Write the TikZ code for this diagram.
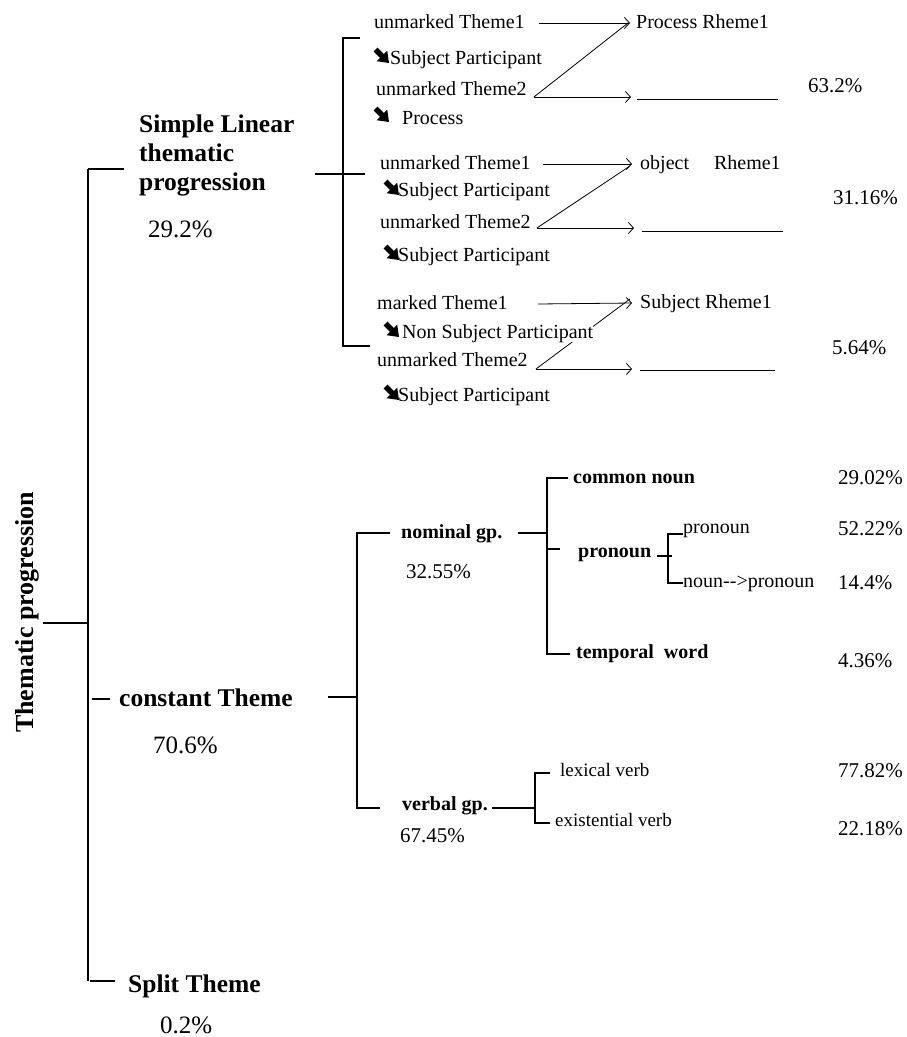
\documentclass[tikz,border=0pt]{standalone}
\usepackage{fontspec}
\setmainfont{Liberation Serif}
\usetikzlibrary{arrows.meta,calc}

\begin{document}
\begin{tikzpicture}[x=1pt,y=-1pt,
  lbl/.style={inner sep=0pt, anchor=base west, font=\fontsize{20}{22}\selectfont,
              text height=14pt, text depth=4pt},
  lblsm/.style={lbl, font=\fontsize{19}{21}\selectfont},
  hd/.style={inner sep=0pt, anchor=base west, font=\bfseries\fontsize{25.5}{29}\selectfont},
  sub/.style={lbl, font=\bfseries\fontsize{20}{22}\selectfont},
  pc/.style={lbl, font=\fontsize{21}{23}\selectfont},
  bigpc/.style={lbl, font=\fontsize{25}{27}\selectfont},
  tree/.style={line width=1.1pt},
  link/.style={line width=0.8pt},
  arr/.style={line width=0.8pt, -{Straight Barb[length=5pt,width=11pt,line width=0.8pt]}},
  blank/.style={line width=1pt},
  % heavy south-east arrow set before the participant labels (origin on the baseline)
  sea/.pic={\fill (5.55,-15.41) -- (11.9,-9.05) -- (15.2,-12.4) -- (17,0)
                 -- (4.6,-1.8) -- (7.95,-5.09) -- (1.59,-11.45) -- cycle;}
]
\useasboundingbox (0,0) rectangle (907,1037);

% ---------- root and trunk ----------
\node[hd, rotate=90, font=\bfseries\fontsize{26}{28}\selectfont] (tp) at (33,733) {Thematic progression};
\coordinate (root) at (43,623);
\coordinate (tRoot) at (88,623);
\coordinate (tSL) at (88,169);
\coordinate (tCT) at (88,699);
\coordinate (tST) at (88,981);
\draw[tree] (root) -- (tRoot);
\draw[tree] (tSL) -- (tST);

% ---------- simple linear thematic progression ----------
\node[hd, align=left] (sl) at (139,190) {Simple Linear\\thematic\\progression};
\node[bigpc] (sl-p) at (148,237) {29.2\%};
\draw[tree] (tSL) -- ++(36,0);

\coordinate (sTop) at (343,38);
\coordinate (sMid) at (343,174);
\coordinate (sBot) at (343,346);
\draw[tree] (360,38) -- (sTop) -- (sBot) -- (370,346);
\draw[tree] (315,174) -- (365,174);

% pattern 1
\node[lbl] (a1) at (374,28) {unmarked Theme1};
\node[lbl] (a1r) at (636,28) {Process Rheme1};
\pic (a1g) at (372,63) {sea};
\node[lbl] (a1s) at (390,64) {Subject Participant};
\node[lbl] (a2) at (376,95) {unmarked Theme2};
\pic (a2g) at (372,122) {sea};
\node[lbl] (a2s) at (402,124) {Process};
\coordinate (a2o) at ($(a2.base east)+(7,2)$);
\coordinate (a2b) at (637,99);
\coordinate (a2e) at (778,99);
\draw[arr] ($(a1.east)+(14,0)$) -- ($(a1r.west)+(-6,0)$);
\draw[link] (a2o) -- ($(a1r.west)+(-8,0)$);
\draw[arr] (a2o) -- ($(a2o -| a2b)+(-6,0)$);
\draw[blank] (a2b) -- (a2e);
\node[pc] (p1) at (808,92) {63.2\%};

% pattern 2
\node[lbl] (b1) at (380,169) {unmarked Theme1};
\node[lbl] (b1r) at (640,169) {object\quad\ Rheme1};
\pic (b1g) at (382,195) {sea};
\node[lbl] (b1s) at (398,196) {Subject Participant};
\node[lbl] (b2) at (380,228) {unmarked Theme2};
\pic (b2g) at (382,260) {sea};
\node[lbl] (b2s) at (398,261) {Subject Participant};
\coordinate (b2o) at ($(b2.base east)+(6,0)$);
\coordinate (b2b) at (642,231);
\coordinate (b2e) at (783,231);
\draw[arr] ($(b1.east)+(12,0)$) -- ($(b1r.west)+(-8,0)$);
\draw[link] (b2o) -- ($(b1r.west)+(-10,2)$);
\draw[arr] (b2o) -- ($(b2o -| b2b)+(-8,0)$);
\draw[blank] (b2b) -- (b2e);
\node[pc] (p2) at (833,204) {31.16\%};

% pattern 3
\node[lbl] (c1) at (377,309) {marked Theme1};
\node[lbl] (c1r) at (640,308) {Subject Rheme1};
\node[lbl] (c2) at (377,366) {unmarked Theme2};
\pic (c2g) at (382,400) {sea};
\node[lbl] (c2s) at (398,401) {Subject Participant};
\coordinate (c2o) at ($(c2.base east)+(8,3)$);
\coordinate (c2b) at (640,370);
\coordinate (c2e) at (775,370);
\draw[arr] ($(c1.east)+(30,0)$) -- ($(c1r.west)+(-8,0)$);
\draw[link] (c2o) -- ($(c1r.west)+(-10,-4)$);
\pic (c1g) at (382,337) {sea};
\node[lbl, fill=white] (c1s) at (402,338) {Non Subject Participant};
\draw[arr] (c2o) -- ($(c2o -| c2b)+(-8,0)$);
\draw[blank] (c2b) -- (c2e);
\node[pc] (p3) at (832,354) {5.64\%};

% ---------- constant theme ----------
\node[hd] (ct) at (119,706) {constant Theme};
\node[bigpc] (ct-p) at (153,753) {70.6\%};
\draw[tree] ($(tCT)+(4,0)$) -- ++(18,0);
\draw[tree] (328,697) -- (357,697);

\coordinate (cTop) at (357,533);
\coordinate (cBot) at (357,808);
\draw[tree] (390,533) -- (cTop) -- (cBot) -- (380,808);

% nominal group
\node[sub] (ng) at (401,538) {nominal gp.};
\node[pc] (ng-p) at (406,578) {32.55\%};
\draw[tree] (518,533) -- (547,533);
\coordinate (nTop) at (547,478);
\coordinate (nBot) at (547,654);
\draw[tree] (568,478) -- (nTop) -- (nBot) -- (570,654);
\draw[tree] (548,549) -- (560,549);

\node[sub] (cn) at (573,483) {common noun};
\node[sub] (pn) at (578,557) {pronoun};
\node[sub] (tw) at (576,658) {temporal\ \ word};
\draw[tree] (657,556) -- (672,556);
\coordinate (pTop) at (668,534);
\coordinate (pBot) at (668,583);
\draw[tree] (683,534) -- (pTop) -- (pBot) -- (683,583);
\node[lbl] (pn1) at (683,533) {pronoun};
\node[lbl] (pn2) at (683,587) {noun-{}->pronoun};

\node[pc] (cn-p) at (838,484) {29.02\%};
\node[pc] (pn1-p) at (838,535) {52.22\%};
\node[pc] (pn2-p) at (838,589) {14.4\%};
\node[pc] (tw-p) at (838,667) {4.36\%};

% verbal group
\node[sub] (vg) at (402,810) {verbal gp.};
\node[pc] (vg-p) at (400,842) {67.45\%};
\draw[tree] (492,808) -- (535,808);
\coordinate (vTop) at (535,773);
\coordinate (vBot) at (535,823);
\draw[tree] (550,773) -- (vTop) -- (vBot) -- (550,823);
\node[lblsm] (lv) at (560,776) {lexical verb};
\node[lblsm] (ev) at (555,826) {existential verb};
\node[pc] (lv-p) at (838,777) {77.82\%};
\node[pc] (ev-p) at (838,835) {22.18\%};

% ---------- split theme ----------
\draw[tree] ($(tST)+(2,0)$) -- ++(25,0);
\node[hd] (st) at (128,992) {Split Theme};
\node[bigpc] (st-p) at (160,1033) {0.2\%};
\end{tikzpicture}
\end{document}
